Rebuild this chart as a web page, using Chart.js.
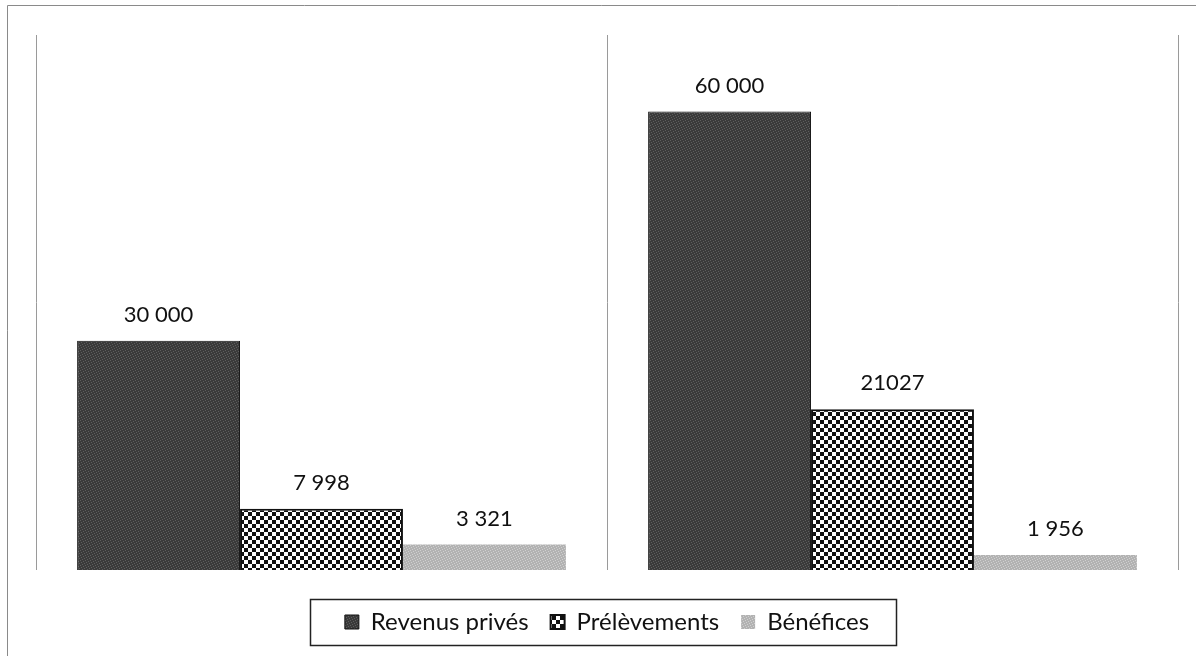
<!DOCTYPE html>
<html>
<head>
<meta charset="utf-8">
<script src="https://cdn.jsdelivr.net/npm/chart.js@4/dist/chart.umd.min.js"></script>
<style>
html,body{margin:0;padding:0;background:#fff;}
canvas{display:block;}
</style>
</head>
<body>
<canvas id="c" width="1196" height="656"></canvas>
<script>
// ---- data ----
const categories = ["Groupe 1", "Groupe 2"];
const seriesNames = ["Revenus privés", "Prélèvements", "Bénéfices"];
const revenusPrives = [30000, 60000];
const prelevements = [7998, 21027];
const benefices = [3321, 1956];
const revenusLabels = ["30 000", "60 000"];
const prelevementsLabels = ["7 998", "21027"];
const beneficesLabels = ["3 321", "1 956"];
const yMax = 70000;

// ---- patterns ----
function checkerPattern(cell) {
  const c = document.createElement('canvas');
  c.width = cell * 2; c.height = cell * 2;
  const g = c.getContext('2d');
  g.fillStyle = '#fff'; g.fillRect(0, 0, cell * 2, cell * 2);
  g.fillStyle = '#111';
  g.fillRect(0, 0, cell, cell);
  g.fillRect(cell, cell, cell, cell);
  return g.createPattern(c, 'repeat');
}
function ditherPattern(a, b) {
  const c = document.createElement('canvas');
  c.width = 5; c.height = 5;
  const g = c.getContext('2d');
  g.fillStyle = a; g.fillRect(0, 0, 5, 5);
  g.fillStyle = b;
  [[0,0],[3,1],[1,2],[4,3],[2,4]].forEach(p => g.fillRect(p[0], p[1], 1, 1));
  return g.createPattern(c, 'repeat');
}
const darkFill = ditherPattern('#3a3a3a', '#5e5e5e');
const checkFill = checkerPattern(4);
const lightFill = ditherPattern('#b2b2b2', '#d0d0d0');

const FONT = 'Lato, "Open Sans", sans-serif';

const framePlugin = {
  id: 'frame',
  beforeDraw(chart) {
    const ctx = chart.ctx;
    ctx.save();
    ctx.strokeStyle = '#8a8a8a';
    ctx.lineWidth = 1;
    ctx.beginPath();
    ctx.moveTo(7.5, 656); ctx.lineTo(7.5, 5.5); ctx.lineTo(1196, 5.5);
    ctx.stroke();
    ctx.restore();
  }
};

const valueLabelPlugin = {
  id: 'valueLabels',
  afterDatasetsDraw(chart) {
    const ctx = chart.ctx;
    const texts = [revenusLabels, prelevementsLabels, beneficesLabels];
    ctx.save();
    ctx.fillStyle = '#111';
    ctx.font = '22px ' + FONT;
    ctx.textAlign = 'center';
    ctx.textBaseline = 'middle';
    chart.data.datasets.forEach((ds, di) => {
      chart.getDatasetMeta(di).data.forEach((el, i) => {
        ctx.fillText(texts[di][i], el.x, el.y - 26);
      });
    });
    ctx.restore();
  }
};

const legendBoxPlugin = {
  id: 'legendBox',
  afterDraw(chart) {
    const boxes = chart.legend && chart.legend.legendHitBoxes;
    if (!boxes || !boxes.length) return;
    let l = Infinity, r = -Infinity, t = Infinity, b = -Infinity;
    boxes.forEach(h => {
      l = Math.min(l, h.left); r = Math.max(r, h.left + h.width);
      t = Math.min(t, h.top); b = Math.max(b, h.top + h.height);
    });
    const ctx = chart.ctx;
    ctx.save();
    ctx.strokeStyle = '#222';
    ctx.lineWidth = 1.5;
    const cy = (t + b) / 2;
    ctx.strokeRect(Math.round(l - 35) + 0.5, Math.round(cy - 23) + 0.5, Math.round(r - l + 62), 46);
    ctx.restore();
  }
};

new Chart(document.getElementById('c'), {
  type: 'bar',
  data: {
    labels: categories,
    datasets: [
      { label: seriesNames[0], data: revenusPrives, backgroundColor: darkFill, borderColor: '#111', borderWidth: 1 },
      { label: seriesNames[1], data: prelevements, backgroundColor: checkFill, borderColor: '#111', borderWidth: 2 },
      { label: seriesNames[2], data: benefices, backgroundColor: lightFill, borderColor: '#b4b4b4', borderWidth: 0 }
    ]
  },
  options: {
    responsive: false,
    devicePixelRatio: 1,
    animation: false,
    layout: { padding: { left: 36, right: 18, top: 35, bottom: 12 } },
    datasets: { bar: { categoryPercentage: 0.856, barPercentage: 1.0 } },
    scales: {
      x: {
        display: true,
        grid: { display: true, offset: true, color: '#9a9a9a', lineWidth: 1, drawTicks: false },
        border: { display: false },
        ticks: { display: false },
        afterFit(scale) { scale.height = 18; }
      },
      y: {
        display: false,
        min: 0, max: yMax
      }
    },
    plugins: {
      legend: {
        display: true,
        position: 'bottom',
        labels: {
          font: { family: FONT, size: 24 },
          color: '#111',
          boxWidth: 14, boxHeight: 14,
          padding: 22
        }
      },
      tooltip: { enabled: false }
    }
  },
  plugins: [framePlugin, valueLabelPlugin, legendBoxPlugin]
});
</script>
</body>
</html>
